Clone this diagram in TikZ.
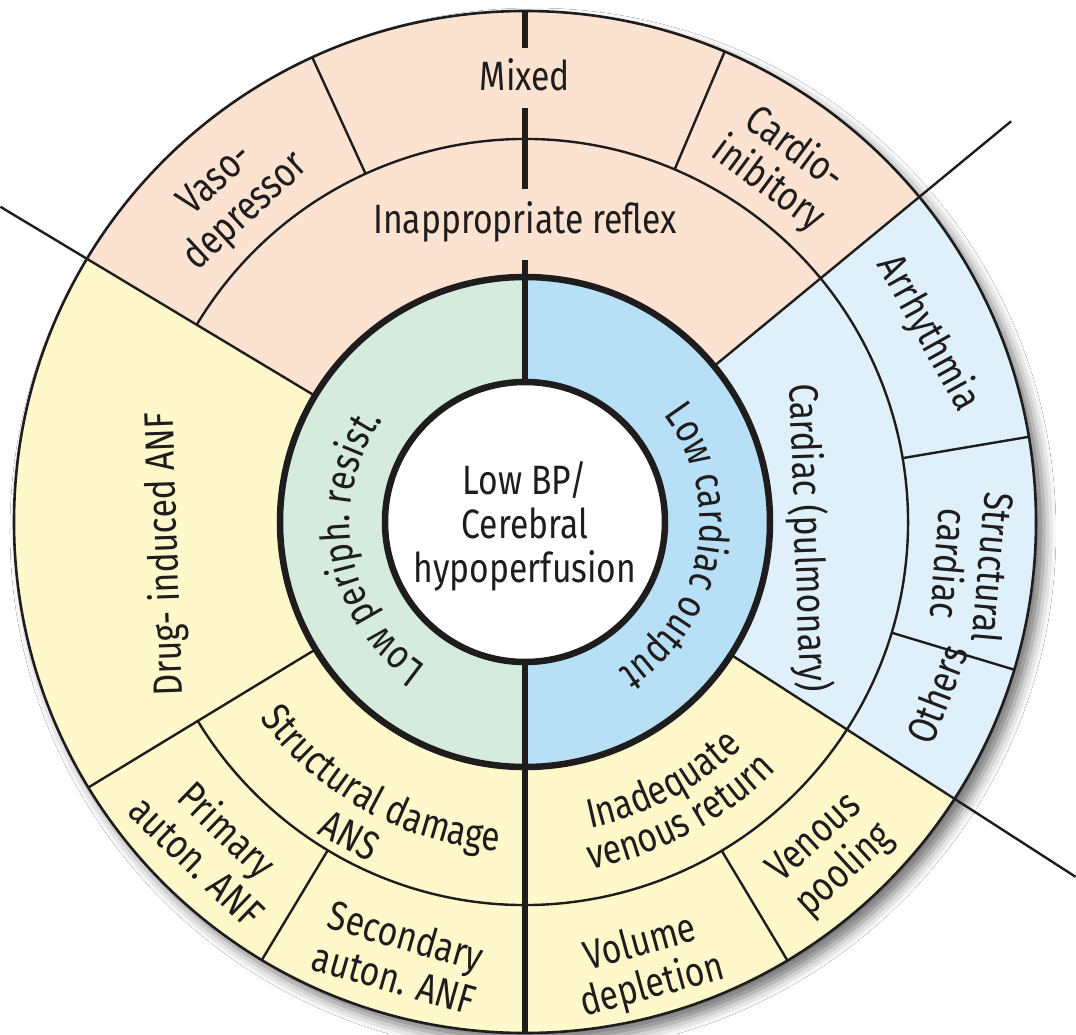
\documentclass[tikz,border=0pt]{standalone}
\usepackage{fontspec}
\setmainfont{Fira Sans}[FakeStretch=0.82]
\usetikzlibrary{decorations.text,shadows.blur}

\definecolor{peach}{RGB}{252,227,209}
\definecolor{paleyellow}{RGB}{255,248,202}
\definecolor{paleblue}{RGB}{224,240,251}
\definecolor{ringgreen}{RGB}{212,235,221}
\definecolor{ringblue}{RGB}{183,223,246}
\definecolor{ink}{RGB}{30,28,28}

\newcommand\lblfont{\fontsize{41}{44}\selectfont}

\tikzset{
  thinline/.style={draw=ink, line width=2.4pt},
  thickline/.style={draw=ink, line width=6.5pt},
  lbl/.style={font=\lblfont, text=ink, align=center, inner sep=0pt},
}

% label bent along a clockwise arc (letter tops face outward)
\newcommand\cwarctext[3]{%
  \path[decorate, decoration={text along path, text align=center,
        text color=ink, text={|\lblfont|#3}}]
    ({#2+70}:#1) arc[start angle={#2+70}, end angle={#2-70}, radius=#1];}
% label bent along a counter-clockwise arc (letter tops face the centre)
\newcommand\ccwarctext[3]{%
  \path[decorate, decoration={text along path, text align=center,
        text color=ink, text={|\lblfont|#3}}]
    ({#2-70}:#1) arc[start angle={#2-70}, end angle={#2+70}, radius=#1];}

\begin{document}
\begin{tikzpicture}
\useasboundingbox (-525pt,-512pt) rectangle (551pt,522pt);
\fill[white] (-525pt,-512pt) rectangle (551pt,522pt);

% disc with soft drop shadow
\fill[white, blur shadow={shadow xshift=8pt, shadow yshift=-9pt,
      shadow blur radius=12pt, shadow opacity=55}] (0,0) circle[radius=511pt];

% outer sectors
\fill[peach] (39.5:245pt) arc[start angle=39.5, end angle=149, radius=245pt]
  -- (149:511pt) arc[start angle=149, end angle=39.5, radius=511pt] -- cycle;
\fill[paleyellow] (149:245pt) arc[start angle=149, end angle=327.2, radius=245pt]
  -- (327.2:511pt) arc[start angle=327.2, end angle=149, radius=511pt] -- cycle;
\fill[paleblue] (-32.8:245pt) arc[start angle=-32.8, end angle=39.5, radius=245pt]
  -- (39.5:511pt) arc[start angle=39.5, end angle=-32.8, radius=511pt] -- cycle;

% inner ring halves and centre disc
\fill[ringgreen] (90:245pt) arc[start angle=90, end angle=270, radius=245pt] -- cycle;
\fill[ringblue] (-90:245pt) arc[start angle=-90, end angle=90, radius=245pt] -- cycle;
\fill[white] (0,0) circle[radius=140pt];

% ring between middle and outer bands
\draw[thinline] (149:383pt) arc[start angle=149, end angle=-148.7, radius=383pt];

% main sector boundaries (three run on past the rim)
\draw[thinline] (149:245pt) -- (149:612pt);
\draw[thinline] (39.5:245pt) -- (39.5:630pt);
\draw[thinline] (-32.8:245pt) -- (-32.8:655pt);
\draw[thinline] (211.3:245pt) -- (211.3:511pt);

% dividers in the outer band
\foreach \a in {114.6, 67, 9.6, -16.8, -59.1, 239}
  \draw[thinline] (\a:383pt) -- (\a:511pt);

% rims
\draw[draw=ink, line width=2.6pt] (0,0) circle[radius=511pt];
\draw[thickline] (0,0) circle[radius=245pt];
\draw[thickline] (0,0) circle[radius=140pt];

% vertical axis, interrupted by the top labels
\draw[thickline] (0,511pt) -- (0,474pt);
\draw[thickline] (0,414pt) -- (0,333pt);
\draw[thickline] (0,262pt) -- (0,140pt);
\draw[thickline] (0,-140pt) -- (0,-511pt);

% straight labels
\node[lbl, anchor=base] (mixed) at (0,431pt) {Mixed};
\node[lbl, anchor=base] (reflex) at (0,288pt) {Inappropriate reflex};
\node[lbl, rotate=43] (vaso) at (132:438pt) {Vaso-\\depressor};
\node[lbl, rotate=-36.5] (cardio) at (54.2:438pt) {Cardio-\\inibitory};
\node[lbl, rotate=-61] (arrh) at (25.1:445pt) {Arrhythmia};
\node[lbl, rotate=-95] (structc) at (-5.6:449pt) {Structural\\cardiac};
\node[lbl, rotate=69] (others) at (-22.7:446pt) {Others};
\node[lbl, rotate=-88] (cardpulm) at (283pt,-16pt) {Cardiac (pulmonary)};
\node[lbl, rotate=92] (drug) at (-359pt,-32pt) {Drug- induced ANF};
\node[lbl] (core) at (0,-4pt) {Low BP/\\Cerebral\\hypoperfusion};
\node[lbl, rotate=-44] (primary) at (226:449pt) {Primary\\auton. ANF};
\node[lbl, rotate=-16] (secondary) at (254:452pt) {Secondary\\auton. ANF};
\node[lbl, rotate=15.3] (volume) at (-74.7:460pt) {Volume\\depletion};
\node[lbl, rotate=42.5] (pooling) at (-47.5:452pt) {Venous\\pooling};
\node[lbl, rotate=-29] (ans) at (240.8:359pt) {ANS};

% labels bent along the rings
\cwarctext{175pt}{190}{Low periph. resist.}
\cwarctext{175pt}{-10}{Low cardiac output}
\ccwarctext{330pt}{241}{Structural damage}
\ccwarctext{313pt}{-62}{Inadequate}
\ccwarctext{353pt}{-62}{venous return}
\end{tikzpicture}
\end{document}
